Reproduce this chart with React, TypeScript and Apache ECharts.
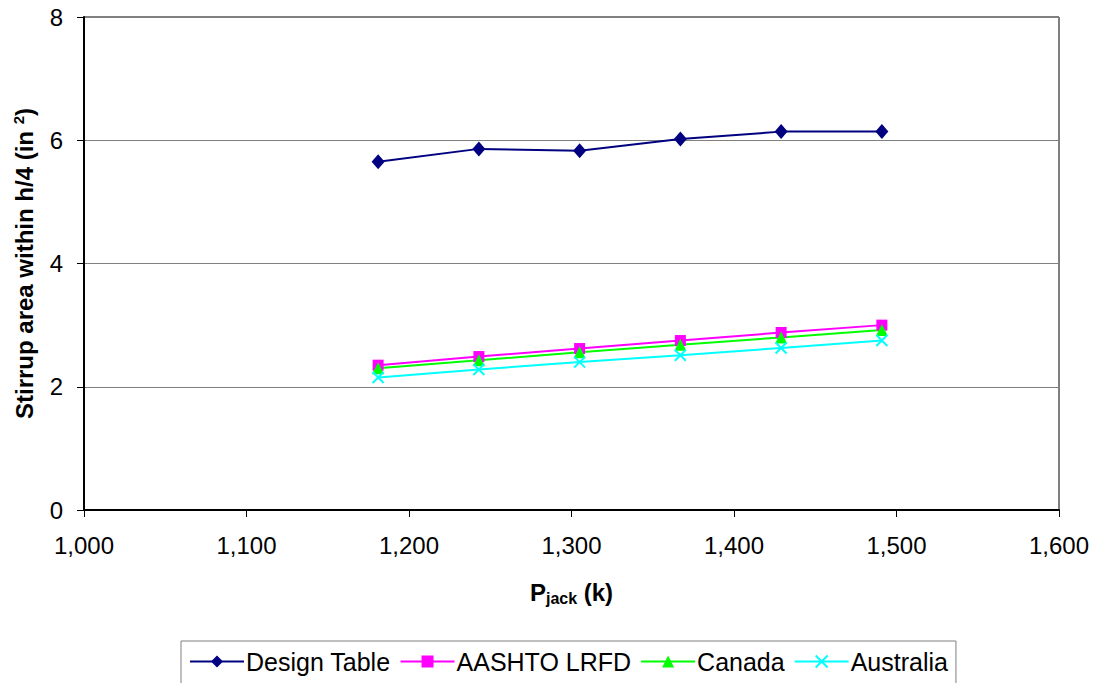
import React, { useEffect, useRef } from "react";
import * as echarts from "echarts";

// Jacking force (k) for each girder case
const pJack = [1181, 1243, 1305, 1367, 1429, 1491];

// Stirrup area within h/4 (in²) by method
const designTable = [5.65, 5.86, 5.83, 6.02, 6.14, 6.14];
const aashtoLrfd = [2.35, 2.49, 2.62, 2.75, 2.88, 3.0];
const canada = [2.3, 2.43, 2.56, 2.68, 2.8, 2.92];
const australia = [2.15, 2.28, 2.4, 2.51, 2.63, 2.75];

const seriesNames = ["Design Table", "AASHTO LRFD", "Canada", "Australia"];

const FONT = "'Liberation Sans', Arial, sans-serif";

const pairs = (ys: number[]) => pJack.map((x, i) => [x, ys[i]]);

export default function App() {
  const ref = useRef<HTMLDivElement>(null);

  useEffect(() => {
    if (!ref.current) return;
    const chart = echarts.init(ref.current, undefined, { renderer: "svg" });

    const lineSeries = (
      name: string,
      ys: number[],
      color: string,
      symbol: string,
      symbolSize: number | number[],
      extraItem: any = {}
    ) => ({
      name,
      type: "line",
      data: pairs(ys),
      symbol,
      symbolSize,
      showAllSymbol: true,
      lineStyle: { color, width: 2 },
      itemStyle: { color, ...extraItem },
      emphasis: { disabled: true },
    });

    chart.setOption({
      animation: false,
      backgroundColor: "#ffffff",
      textStyle: { fontFamily: FONT },
      grid: {
        left: 84,
        right: 35,
        top: 17,
        bottom: 173,
        show: true,
        borderColor: "#000000",
        borderWidth: 1,
        outerBoundsMode: "none",
      },
      legend: {
        data: seriesNames,
        left: 181,
        top: 641,
        orient: "horizontal",
        padding: [8, 8, 30, 8],
        itemGap: 9,
        itemWidth: 54,
        itemHeight: 15,
        borderColor: "#808080",
        borderWidth: 1,
        textStyle: { fontFamily: FONT, fontSize: 25, color: "#000000", padding: [0, 0, 0, -3] },
      },
      xAxis: {
        type: "value",
        min: 1000,
        max: 1600,
        interval: 100,
        name: "{b|P}{sub|jack}{b| (k)}",
        nameLocation: "middle",
        nameGap: 68,
        nameTextStyle: {
          rich: {
            b: { fontFamily: FONT, fontSize: 24, fontWeight: "bold", color: "#000" },
            sub: {
              fontFamily: FONT,
              fontSize: 16,
              fontWeight: "bold",
              color: "#000",
              padding: [12, 0, 0, 0],
            },
          },
        },
        axisLine: { show: true, onZero: false, lineStyle: { color: "#000000", width: 2 } },
        axisTick: { show: true, length: 7, lineStyle: { color: "#000000" } },
        axisLabel: {
          fontFamily: FONT,
          fontSize: 24,
          color: "#000000",
          margin: 23,
          formatter: (v: number) => v.toLocaleString("en-US"),
        },
        splitLine: { show: false },
      },
      yAxis: {
        type: "value",
        min: 0,
        max: 8,
        interval: 2,
        name: "{b|Stirrup area within h/4 (in }{sup|2}{b|)}",
        nameLocation: "middle",
        nameGap: 46,
        nameTextStyle: {
          rich: {
            b: { fontFamily: FONT, fontSize: 24, fontWeight: "bold", color: "#000" },
            sup: {
              fontFamily: FONT,
              fontSize: 15,
              fontWeight: "bold",
              color: "#000",
              padding: [0, 0, 12, 0],
            },
          },
        },
        axisLine: { show: true, lineStyle: { color: "#000000", width: 2 } },
        axisTick: { show: true, length: 7, lineStyle: { color: "#000000" } },
        axisLabel: {
          fontFamily: FONT,
          fontSize: 24,
          color: "#000000",
          margin: 21,
        },
        splitLine: { show: true, lineStyle: { color: "#808080", width: 1 } },
      },
      series: [
        lineSeries(seriesNames[0], designTable, "#000080", "diamond", [13, 15]),
        lineSeries(seriesNames[1], aashtoLrfd, "#FF00FF", "rect", 11),
        lineSeries(seriesNames[2], canada, "#00FF00", "triangle", 12),
        lineSeries(
          seriesNames[3],
          australia,
          "#00FFFF",
          "path://M0,0L10,10M0,10L10,0",
          11,
          { borderColor: "#00FFFF", borderWidth: 2 }
        ),
      ],
    });

    return () => chart.dispose();
  }, []);

  return (
    <div
      ref={ref}
      style={{ position: "fixed", left: 0, top: 0, width: 1094, height: 683, background: "#fff" }}
    />
  );
}
